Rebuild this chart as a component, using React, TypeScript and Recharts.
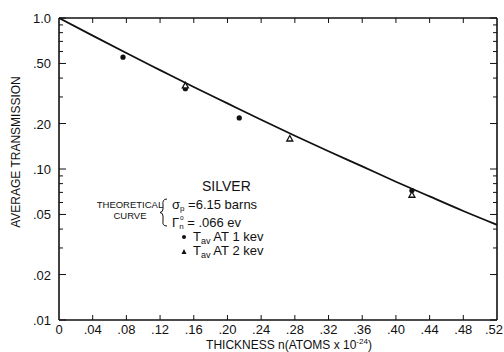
import React from "react";
import { ComposedChart, Line, Scatter, XAxis, YAxis } from "recharts";

if (typeof document !== "undefined") document.body.style.margin = "0";

const FONT = "'Liberation Sans', Arial, sans-serif";
const INK = "#111";

const X_TICKS = [0, 0.04, 0.08, 0.12, 0.16, 0.2, 0.24, 0.28, 0.32, 0.36, 0.4, 0.44, 0.48, 0.52];
const X_TICK_LABELS = ["0", ".04", ".08", ".12", ".16", ".20", ".24", ".28", ".32", ".36", ".40", ".44", ".48", ".52"];

const Y_MAJOR = [0.01, 0.02, 0.05, 0.1, 0.2, 0.5, 1];
const Y_MAJOR_LABELS = [".01", ".02", ".05", ".10", ".20", ".50", "1.0"];
const Y_MINOR = [0.03, 0.04, 0.06, 0.07, 0.08, 0.09, 0.3, 0.4, 0.6, 0.7, 0.8, 0.9];
const Y_TICKS = [...Y_MAJOR, ...Y_MINOR].sort((a, b) => a - b);

// theoretical curve
const CURVE_X = [0, 0.04, 0.08, 0.12, 0.16, 0.2, 0.24, 0.28, 0.32, 0.36, 0.4, 0.44, 0.48, 0.52];
const CURVE_T = [1.0, 0.764, 0.586, 0.452, 0.349, 0.272, 0.212, 0.166, 0.131, 0.104, 0.0824, 0.0658, 0.0527, 0.0427];

// measured points
const KEV1_X = [0.076, 0.15, 0.214, 0.419];
const KEV1_T = [0.55, 0.34, 0.218, 0.072];
const KEV2_X = [0.15, 0.274, 0.419];
const KEV2_T = [0.355, 0.158, 0.067];

const curve = CURVE_X.map((x, i) => ({ x, y: CURVE_T[i] }));
const kev1 = KEV1_X.map((x, i) => ({ x, y: KEV1_T[i] }));
const kev2 = KEV2_X.map((x, i) => ({ x, y: KEV2_T[i] }));

const majorIndex = (v: number) => Y_MAJOR.findIndex((m) => Math.abs(m - v) < 1e-9);

const LeftTick = (props: any) => {
  const { x, y, payload } = props;
  const i = majorIndex(payload.value);
  return (
    <g>
      <line x1={x} x2={x + (i >= 0 ? 7 : 4)} y1={y} y2={y} stroke={INK} strokeWidth={1} />
      {i >= 0 && (
        <text x={x - 8} y={y + 5} textAnchor="end" fontSize={13} fontFamily={FONT} fill={INK}>
          {Y_MAJOR_LABELS[i]}
        </text>
      )}
    </g>
  );
};

const RightTick = (props: any) => {
  const { x, y, payload } = props;
  const i = majorIndex(payload.value);
  return <line x1={x} x2={x - (i >= 0 ? 7 : 4)} y1={y} y2={y} stroke={INK} strokeWidth={1} />;
};

const BottomTick = (props: any) => {
  const { x, y, payload, index } = props;
  const last = index === X_TICKS.length - 1;
  return (
    <g>
      {index > 0 && !last && <line x1={x} x2={x} y1={y} y2={y - 5} stroke={INK} strokeWidth={1} />}
      <text
        x={last ? x + 6 : x}
        y={y + 14}
        textAnchor={last ? "end" : "middle"}
        fontSize={13}
        fontFamily={FONT}
        fill={INK}
      >
        {X_TICK_LABELS[index] ?? payload.value}
      </text>
    </g>
  );
};

const TopTick = (props: any) => {
  const { x, y, index } = props;
  if (index === 0 || index === X_TICKS.length - 1) return <g />;
  return <line x1={x} x2={x} y1={y} y2={y + 5} stroke={INK} strokeWidth={1} />;
};

const Dot = (props: any) => <circle cx={props.cx} cy={props.cy} r={2.6} fill={INK} />;

const Tri = (props: any) => {
  const { cx, cy } = props;
  return (
    <path
      d={`M${cx},${cy - 3.5} L${cx + 3},${cy + 2} L${cx - 3},${cy + 2} Z`}
      fill="#fff"
      stroke={INK}
      strokeWidth={1.3}
    />
  );
};

export default function App() {
  return (
    <div style={{ position: "relative", width: 504, height: 352, background: "#fff" }}>
      <ComposedChart width={504} height={352} margin={{ top: 0, right: 0, bottom: 0, left: 0 }}>
        <XAxis
          xAxisId="b"
          dataKey="x"
          type="number"
          domain={[0, 0.52]}
          ticks={X_TICKS}
          interval={0}
          height={32}
          tickSize={0}
          tickMargin={0}
          tick={<BottomTick />}
          axisLine={{ stroke: INK, strokeWidth: 1.6 }}
          allowDataOverflow
        />
        <XAxis
          xAxisId="t"
          orientation="top"
          dataKey="x"
          type="number"
          domain={[0, 0.52]}
          ticks={X_TICKS}
          interval={0}
          height={18}
          tickSize={0}
          tickMargin={0}
          tick={<TopTick />}
          axisLine={{ stroke: INK, strokeWidth: 1.6 }}
          allowDataOverflow
        />
        <YAxis
          yAxisId="l"
          dataKey="y"
          scale="log"
          type="number"
          domain={[0.01, 1]}
          ticks={Y_TICKS}
          interval={0}
          width={59}
          tickSize={0}
          tickMargin={0}
          tick={<LeftTick />}
          axisLine={{ stroke: INK, strokeWidth: 1.6 }}
          allowDataOverflow
        />
        <YAxis
          yAxisId="r"
          orientation="right"
          dataKey="y"
          scale="log"
          type="number"
          domain={[0.01, 1]}
          ticks={Y_TICKS}
          interval={0}
          width={7}
          tickSize={0}
          tickMargin={0}
          tick={<RightTick />}
          axisLine={{ stroke: INK, strokeWidth: 1.6 }}
          allowDataOverflow
        />
        <Line
          xAxisId="b"
          yAxisId="l"
          data={curve}
          dataKey="y"
          type="monotone"
          stroke={INK}
          strokeWidth={1.8}
          dot={false}
          isAnimationActive={false}
        />
        <Scatter xAxisId="b" yAxisId="l" data={kev1} dataKey="y" shape={<Dot />} isAnimationActive={false} />
        <Scatter xAxisId="b" yAxisId="l" data={kev2} dataKey="y" shape={<Tri />} isAnimationActive={false} />
      </ComposedChart>
      <svg
        width={504}
        height={352}
        style={{ position: "absolute", left: 0, top: 0, pointerEvents: "none" }}
        fontFamily={FONT}
        fill={INK}
      >
        <text x={16} y={152} transform="rotate(-90 16 152)" textAnchor="middle" dy={4} fontSize={12}>
          AVERAGE TRANSMISSION
        </text>
        <text x={289} y={349} textAnchor="middle" fontSize={12}>
          THICKNESS n(ATOMS x 10
          <tspan dy={-5} fontSize={8}>-24</tspan>
          <tspan dy={5}>)</tspan>
        </text>
        <text x={202} y={191} fontSize={14}>SILVER</text>
        <text x={130} y={208} textAnchor="middle" fontSize={9.5}>THEORETICAL</text>
        <text x={130} y={219} textAnchor="middle" fontSize={9.5}>CURVE</text>
        <path d="M167,199 Q162,199 163,205 L163,209 Q163,212 160,212.5 Q163,213 163,216 L163,221 Q162,226 167,226" fill="none" stroke={INK} strokeWidth={1} />
        <text x={172} y={209} fontSize={13}>
          σ<tspan dy={2} fontSize={8}>p</tspan>
          <tspan dy={-2}> =6.15 barns</tspan>
        </text>
        <text x={180} y={220} fontSize={6.5}>o</text>
        <text x={172} y={227} fontSize={13}>
          Γ<tspan dy={2} fontSize={8}>n</tspan>
          <tspan dy={-2} fontSize={13}> = .066 ev</tspan>
        </text>
        <circle cx={184} cy={237} r={2} />
        <text x={193} y={241} fontSize={13}>
          T<tspan dy={3} fontSize={9}>av</tspan>
          <tspan dy={-3}> AT  1 kev</tspan>
        </text>
        <path d="M184,249 L186.5,254 L181.5,254 Z" />
        <text x={193} y={255} fontSize={13}>
          T<tspan dy={3} fontSize={9}>av</tspan>
          <tspan dy={-3}> AT 2 kev</tspan>
        </text>
      </svg>
    </div>
  );
}
